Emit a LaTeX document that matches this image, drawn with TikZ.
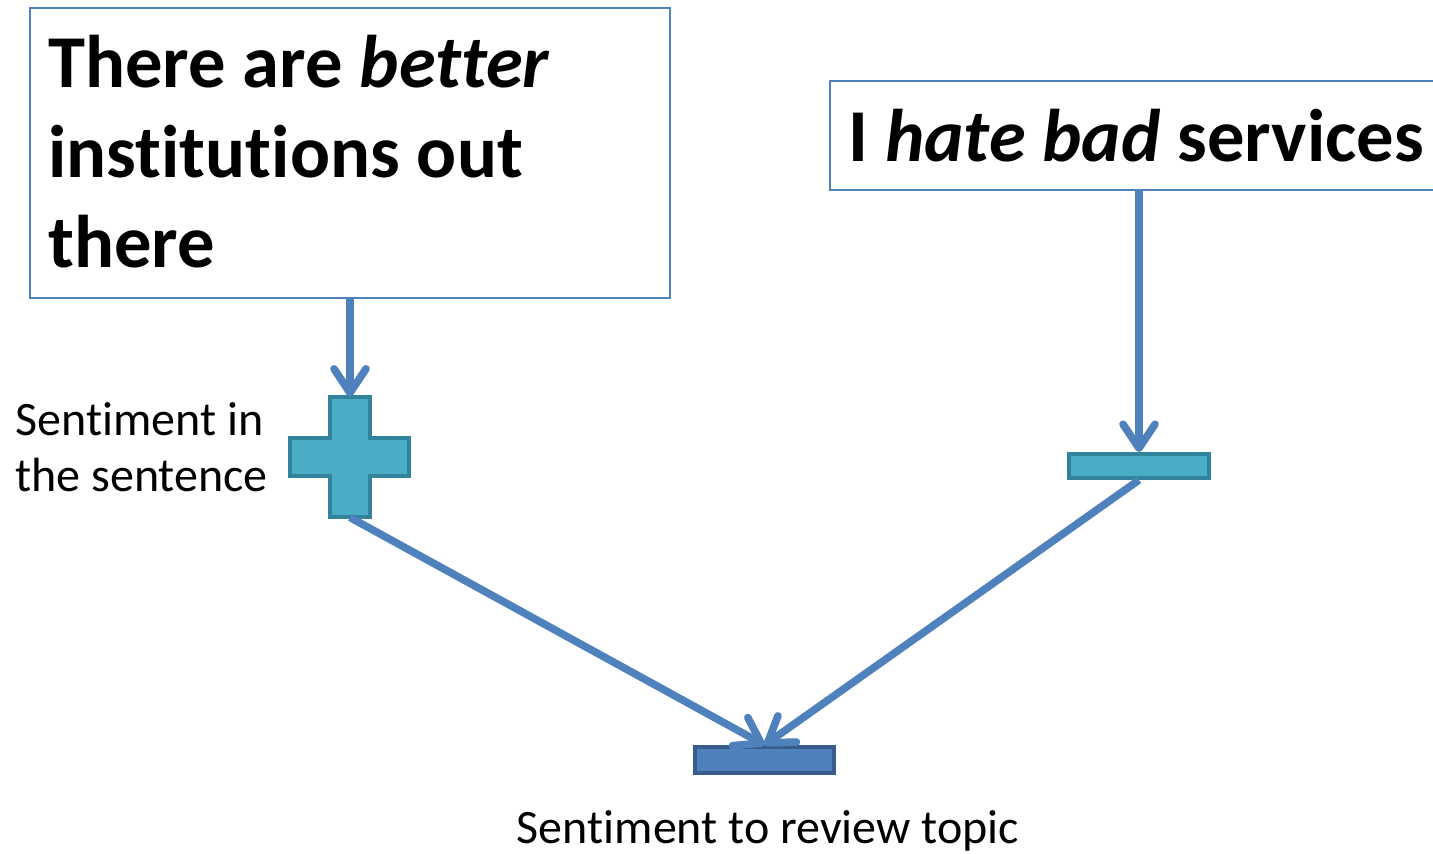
\documentclass[tikz,border=0pt]{standalone}
\usepackage{fontspec}
\setmainfont{Carlito}[Ligatures=NoCommon]
\usetikzlibrary{arrows.meta}
\definecolor{boxblue}{HTML}{4F81BD}
\definecolor{tealfill}{HTML}{4BACC6}
\definecolor{tealline}{HTML}{31849B}
\definecolor{resline}{HTML}{385D8A}
\begin{document}
\begin{tikzpicture}[x=0.5pt,y=-0.5pt,
  textbox/.style={draw=boxblue, line width=0.8pt, rectangle, inner sep=0},
  bigtxt/.style={anchor=base west, inner sep=0, font=\fontsize{37.3}{45}\selectfont\bfseries},
  smalltxt/.style={anchor=base west, inner sep=0, font=\fontsize{24}{29}\selectfont},
  arr/.style={draw=boxblue, line width=3.8pt, -{Straight Barb[round,length=12pt,width=16pt]}},
  signbox/.style={draw=tealline, fill=tealfill, line width=2pt, rectangle, inner sep=0}]
\useasboundingbox (0,0) rectangle (1433,853);
\clip (0,0) rectangle (1433,853);
% boxes
\node[textbox, minimum width=320pt, minimum height=145pt] (box1) at (350,153) {};
\node[textbox, minimum width=320pt, minimum height=54.5pt] (box2) at (1150,135.5) {};
\node[bigtxt] (t1) at (48,87) {There are \textit{better}};
\node[bigtxt] (t2) at (48,177) {institutions out};
\node[bigtxt] (t3) at (48,267) {there};
\node[bigtxt] (t4) at (848,161) {I \textit{hate bad} services};
% plus sign
\draw[tealline, fill=tealfill, line width=2pt, line join=miter]
  (330,397) -- (370,397) -- (370,438) -- (409,438) -- (409,476) -- (370,476)
  -- (370,517) -- (330,517) -- (330,476) -- (290,476) -- (290,438) -- (330,438) -- cycle;
\node[minimum width=60pt, minimum height=60pt, inner sep=0] (plus) at (350,457) {};
% minus signs
\node[signbox, minimum width=70pt, minimum height=12pt] (neg) at (1139,466) {};
\node[draw=resline, fill=boxblue, line width=2pt, rectangle, inner sep=0,
  minimum width=69.5pt, minimum height=13pt] (res) at (764.5,760) {};
% labels
\node[smalltxt] (l1) at (15,435) {Sentiment in};
\node[smalltxt] (l2) at (15,491) {the sentence};
\node[smalltxt, anchor=base] (l3) at (768,843) {Sentiment to review topic};
% arrows
\draw[arr] (box1.south) -- (plus.north);
\draw[arr] (neg.north |- box2.south) -- (neg.north);
\draw[arr] (plus.south) -- (res.north);
\draw[arr] (neg.south) -- (res.north);
\end{tikzpicture}
\end{document}
